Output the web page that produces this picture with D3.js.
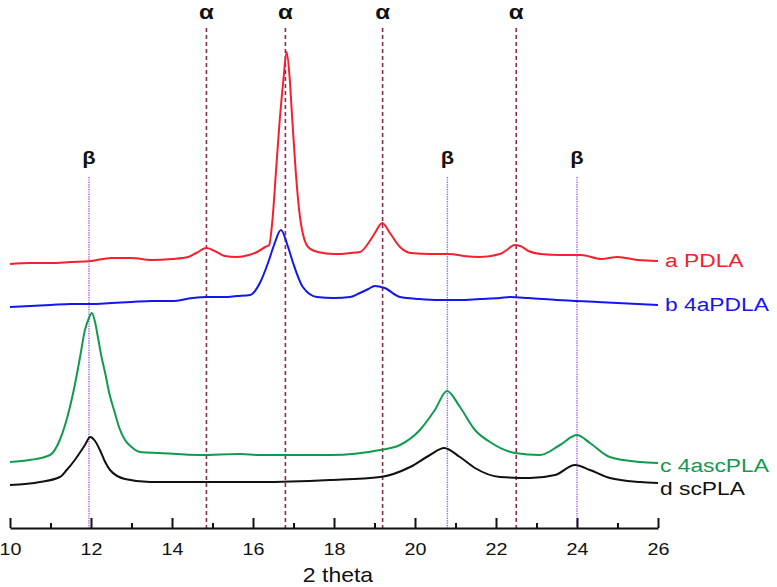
<!DOCTYPE html>
<html><head><meta charset="utf-8">
<script src="https://cdn.jsdelivr.net/npm/d3@7"></script>
<style>
html,body{margin:0;padding:0;background:#fff;}
svg{display:block;}
text{font-family:"Liberation Sans",Arial,sans-serif;}
</style></head>
<body>
<svg id="chart" width="777" height="587"></svg>
<script>
// ---- data (intensity in arbitrary units, offsets included) ----
const xTicksMajor = [10, 12, 14, 16, 18, 20, 22, 24, 26];
const xTicksMinor = [11, 13, 15, 17, 19, 21, 23, 25];
const alphaPeaks = [14.85, 16.8, 19.2, 22.5];
const betaPeaks = [11.95, 20.8, 24.0];
const seriesNames = ["a PDLA", "b 4aPDLA", "c 4ascPLA", "d scPLA"];

const pdla = [[10.0,264],[10.5,265],[11.0,265],[11.5,266],[12.0,267],[12.5,270],[13.0,270],[13.5,268],[14.0,269],[14.4,271],[14.6,275],[14.85,280],[15.1,276],[15.3,272],[15.6,271],[15.9,273],[16.1,276],[16.3,281],[16.4,283],[16.48,308],[16.57,358],[16.66,408],[16.75,448],[16.83,476],[16.9,453],[16.96,415],[17.04,365],[17.16,311],[17.36,281],[17.6,276],[18.0,274],[18.4,275],[18.64,276],[18.9,288],[19.01,295],[19.19,305],[19.38,295],[19.63,281],[19.9,275],[20.4,274],[20.85,274],[21.2,272],[21.6,271],[22.1,274],[22.3,279],[22.45,283],[22.6,282],[22.8,277],[23.1,274],[23.6,273],[24.1,273],[24.6,269],[25.0,271],[25.5,268],[26.0,267]];
const apdla = [[10.0,221],[10.5,222],[11.0,223],[11.5,224],[12.0,224],[12.5,225],[13.0,226],[13.5,227],[14.0,227],[14.5,230],[14.85,231],[15.3,231],[15.6,232],[15.93,233],[16.17,245],[16.37,265],[16.52,283],[16.69,298],[16.85,283],[16.99,265],[17.23,241],[17.58,231],[18.0,230],[18.4,231],[18.64,235],[18.85,239],[19.0,242],[19.25,240],[19.63,231],[20.1,229],[20.6,228],[21.1,228],[21.6,229],[22.1,230],[22.35,231],[22.8,230],[23.5,228],[24.5,226],[25.5,224],[26.0,223]];
const ascpla = [[10.0,66],[10.49,68],[10.99,73],[11.23,88],[11.48,121],[11.6,143],[11.73,171],[11.85,198],[11.95,210],[12.02,215],[12.1,206],[12.17,191],[12.25,173],[12.35,155],[12.45,135],[12.59,115],[12.7,100],[12.84,88],[13.0,81],[13.21,76],[13.7,75],[14.69,73],[15.68,74],[16.17,73],[17.0,73],[17.9,73],[19.14,78],[19.63,83],[20.12,98],[20.49,118],[20.79,137],[21.11,121],[21.48,98],[21.85,86],[22.47,75],[23.09,73],[23.58,83],[24.0,93],[24.32,85],[24.81,71],[25.56,66],[26.0,65]];
const scpla = [[10.0,43],[10.74,46],[11.23,51],[11.4,58],[11.6,68],[11.85,83],[11.98,91],[12.1,87],[12.22,78],[12.35,66],[12.47,58],[12.84,49],[13.46,46],[14.69,46],[16.17,46],[17.9,48],[19.14,51],[19.88,61],[20.37,73],[20.72,80],[21.11,71],[21.48,60],[22.1,51],[22.84,50],[23.46,53],[23.95,63],[24.32,58],[24.81,50],[25.56,46],[26.0,45]];

const seriesData = [pdla, apdla, ascpla, scpla];
const seriesColors = ["#f5202e", "#1515f0", "#119a4e", "#111111"];

// ---- layout ----
const svg = d3.select("#chart");
const x = d3.scaleLinear().domain([10, 26]).range([10, 658]);
const y = d3.scaleLinear().domain([0, 520]).range([528, 8]);
const axisY = 528;

// marker lines
svg.append("g").selectAll("line").data(alphaPeaks).join("line")
  .attr("x1", d => x(d)).attr("x2", d => x(d))
  .attr("y1", 28).attr("y2", axisY)
  .attr("stroke", "#8e2a50").attr("stroke-width", 1.6)
  .attr("stroke-dasharray", "4,3");
svg.append("g").selectAll("line").data(betaPeaks).join("line")
  .attr("x1", d => x(d)).attr("x2", d => x(d))
  .attr("y1", 177).attr("y2", axisY)
  .attr("stroke", "#9a4cf5").attr("stroke-width", 1.4)
  .attr("stroke-dasharray", "1.2,1.2");

// labels for markers
svg.append("g").selectAll("text").data(alphaPeaks).join("text")
  .attr("transform", d => `translate(${x(d)},19) scale(1.15,1)`)
  .attr("text-anchor", "middle").attr("font-size", 21).attr("font-weight", "bold")
  .attr("fill", "#111").text("α");
svg.append("g").selectAll("text").data(betaPeaks).join("text")
  .attr("transform", d => `translate(${x(d)},164) scale(1.15,1)`)
  .attr("text-anchor", "middle").attr("font-size", 19).attr("font-weight", "bold")
  .attr("fill", "#111").text("β");

// curves
const line = d3.line().x(d => x(d[0])).y(d => y(d[1])).curve(d3.curveMonotoneX);
svg.append("g").selectAll("path").data(seriesData).join("path")
  .attr("d", line).attr("fill", "none")
  .attr("stroke", (d, i) => seriesColors[i]).attr("stroke-width", 2)
  .attr("stroke-linejoin", "round");

// series labels
const labelPos = [[665, 267], [665, 311], [660, 472], [660, 495]];
svg.append("g").selectAll("text").data(seriesNames).join("text")
  .attr("transform", (d, i) => `translate(${labelPos[i][0]},${labelPos[i][1]}) scale(1.2,1)`)
  .attr("font-size", 19).attr("fill", (d, i) => seriesColors[i]).text(d => d);

// axis
const minorAxis = d3.axisBottom(x).tickValues(xTicksMinor).tickSize(-5).tickSizeOuter(0).tickFormat("");
const majorAxis = d3.axisBottom(x).tickValues(xTicksMajor).tickSize(-10).tickSizeOuter(0).tickPadding(15);
svg.append("g").attr("transform", `translate(0,${axisY})`).call(minorAxis)
  .call(g => g.select(".domain").remove())
  .call(g => g.selectAll("line").attr("stroke", "#111").attr("stroke-width", 2));
const gx = svg.append("g").attr("transform", `translate(0,${axisY})`).call(majorAxis);
gx.select(".domain").attr("stroke", "#111").attr("stroke-width", 2);
gx.selectAll("line").attr("stroke", "#111").attr("stroke-width", 2);
gx.selectAll("text").attr("font-size", 17).attr("fill", "#111")
  .attr("font-family", "'Liberation Sans', Arial, sans-serif")
  .attr("transform", "scale(1.16,1)");

svg.append("text").attr("transform", `translate(338,582) scale(1.15,1)`)
  .attr("text-anchor", "middle").attr("font-size", 20).attr("fill", "#111").text("2 theta");
</script>
</body></html>
